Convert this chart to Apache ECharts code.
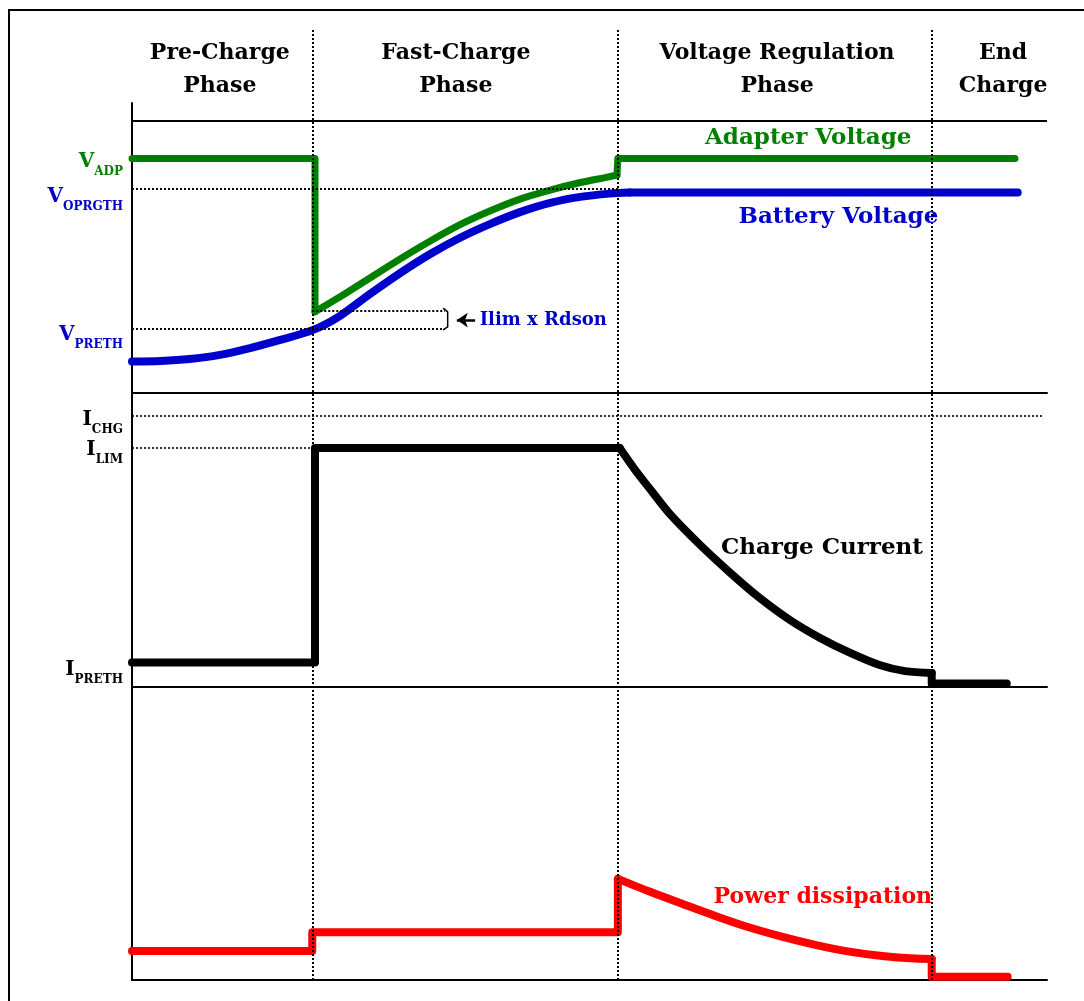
<!DOCTYPE html>
<html>
<head>
<meta charset="utf-8">
<script src="https://cdn.jsdelivr.net/npm/echarts@6/dist/echarts.min.js"></script>
<style>
html,body{margin:0;padding:0;background:#fff;}
#frame{position:absolute;left:8px;top:9px;width:1300px;height:1300px;border-left:2px solid #000;border-top:2px solid #000;}
#chart{position:absolute;left:0;top:0;width:1084px;height:1001px;}
</style>
</head>
<body>
<div id="frame"></div>
<div id="chart"></div>
<script>
// ---------- data (time axis 0..100, each panel's value axis normalised) ----------
const phaseBoundaries = [19.7, 53.1, 87.4];
const phaseNames = ['Pre-Charge\nPhase', 'Fast-Charge\nPhase', 'Voltage Regulation\nPhase', 'End\nCharge'];
const phaseLabelT = [9.6, 35.4, 70.5, 95.2];

const voltTickValues = [86.2, 75.0, 23.6];
const voltTickMain = ['V', 'V', 'V'];
const voltTickSub = ['ADP', 'OPRGTH', 'PRETH'];
const currTickValues = [92.2, 81.3, 8.3];
const currTickMain = ['I', 'I', 'I'];
const currTickSub = ['CHG', 'LIM', 'PRETH'];

// Adapter voltage: straight (step) parts and the smooth ramp
const adapterVoltageSteps = [
  [[0, 86.2], [20.0, 86.2], [20.0, 29.9]],
  [[53.0, 80.1], [53.1, 86.2], [96.5, 86.2]]
];
const adapterVoltageRamp = [
  [20.0, 29.9], [22.7, 35.3], [26.0, 42.3], [29.3, 49.3], [32.6, 55.9], [35.8, 61.8],
  [39.1, 66.9], [42.4, 71.3], [45.7, 74.6], [49.0, 77.4], [51.7, 79.2], [53.0, 80.1]
];
// Battery voltage (smooth rise plus its flat hold)
const batteryVoltageRise = [
  [0, 11.6], [3.1, 11.8], [6.3, 12.5], [9.6, 14.0], [12.9, 16.5], [16.2, 19.5],
  [19.8, 23.2], [22.7, 28.3], [26.0, 36.4], [29.3, 44.1], [32.6, 51.1], [35.8, 57.0],
  [39.1, 62.1], [42.4, 66.5], [45.7, 69.9], [49.0, 72.1], [52.2, 73.3], [54.4, 73.7]
];
const batteryVoltageHold = [[54.4, 73.7], [96.8, 73.7]];
// Charge current
const chargeCurrentSteps = [
  [[0, 8.3], [20.0, 8.3], [20.0, 81.3], [53.3, 81.3]],
  [[87.4, 4.8], [87.4, 1.2], [95.6, 1.2]]
];
const chargeCurrentTaper = [
  [53.3, 81.3], [55.0, 73.8], [56.7, 67.0], [58.8, 58.8], [62.1, 48.3], [65.4, 38.8],
  [68.6, 30.3], [71.9, 22.8], [75.2, 16.7], [78.5, 11.6], [81.7, 7.5], [84.5, 5.4], [87.4, 4.8]
];
// Power dissipation
const powerSteps = [
  [[0, 9.9], [19.7, 9.9], [19.7, 16.3], [53.1, 16.3], [53.1, 34.5]],
  [[87.4, 7.2], [87.4, 1.1], [95.7, 1.1]]
];
const powerTaper = [
  [53.1, 34.5], [56.7, 30.0], [60.3, 25.8], [63.9, 21.7], [67.5, 17.9], [71.1, 14.7],
  [74.8, 11.9], [78.4, 9.7], [82.0, 8.2], [85.6, 7.3], [87.4, 7.2]
];

// dotted reference segments [t0, t1, value]
const voltGuides = [[0, 53.1, 75.0], [0, 34.2, 23.6], [19.7, 34.2, 30.1]];
const currGuides = [[0, 99.5, 92.2], [0, 19.7, 81.3]];
const ilimBracket = [[34.0, 31.2], [34.5, 29.8], [34.5, 24.3], [34.0, 23.2]];
const ilimArrow = [[37.5, 26.8], [35.5, 26.8]];

const voltNotes = [['Adapter Voltage', 73.9, 93.8], ['Battery Voltage', 77.2, 64.7]];
const ilimNote = ['Ilim x Rdson', 38.0, 26.8];
const currNotes = [['Charge Current', 75.4, 47.3]];
const powerNotes = [['Power dissipation', 75.5, 28.3]];

// ---------- styles ----------
const GREEN = '#008000', BLUE = '#0000CC', RED = '#FF0000', BLACK = '#000000';
const FONT = 'DejaVu Serif';
const L = 132, R = 37;

function richLabel(colors, shifts) {
  const rich = {};
  colors.forEach((c, i) => {
    const s = shifts[i];
    rich['m' + i] = {fontFamily: FONT, fontWeight: 'bold', fontSize: 20, color: c, lineHeight: 22,
                     padding: [s, 0, 0, 0], verticalAlign: 'top'};
    rich['s' + i] = {fontFamily: FONT, fontWeight: 'bold', fontSize: 12, color: c, lineHeight: 12,
                     padding: [14 + s, 0, 0, 0], verticalAlign: 'top'};
  });
  return rich;
}
function tickFormatter(values, mains, subs) {
  return function (v) {
    let best = 0;
    values.forEach((x, i) => { if (Math.abs(x - v) < Math.abs(values[best] - v)) best = i; });
    return '{m' + best + '|' + mains[best] + '}{s' + best + '|' + subs[best] + '}';
  };
}
function noteSeries(notes, xi, color, size) {
  return {
    type: 'scatter', xAxisIndex: xi, yAxisIndex: xi, symbolSize: 0, silent: true, z: 5,
    itemStyle: {opacity: 1},
    data: notes.map(n => ({name: n[0], value: [n[1], n[2]]})),
    label: {show: true, position: 'inside', formatter: '{b}', fontFamily: FONT, fontWeight: 'bold',
            fontSize: size, color: color, opacity: 1}
  };
}
function guideLines(guides, width) {
  return {
    silent: true, symbol: 'none', label: {show: false},
    lineStyle: {color: BLACK, type: [2, 2], width: width, opacity: 1},
    data: guides.map(g => [{coord: [g[0], g[2]]}, {coord: [g[1], g[2]]}])
  };
}
const curveStyle = (c, w) => ({color: c, width: w, cap: 'round', join: 'round', opacity: 1});
function traceSeries(name, gi, data, color, width, smooth) {
  return {
    name: name, type: 'line', xAxisIndex: gi, yAxisIndex: gi, data: data, showSymbol: false,
    smooth: smooth ? 0.3 : false,
    lineStyle: curveStyle(color, width), itemStyle: {color: color}, z: 3, silent: true
  };
}

const xAxisBase = (gi, showLine) => ({
  type: 'value', gridIndex: gi, min: 0, max: 100, show: showLine,
  axisLine: {show: showLine, onZero: false, lineStyle: {color: BLACK, width: 2}},
  axisTick: {show: false}, axisLabel: {show: false}, splitLine: {show: false}
});

const series = [
  // phase boundaries & phase headers
  {
    type: 'scatter', xAxisIndex: 0, yAxisIndex: 0, symbolSize: 0, silent: true, z: 10,
    itemStyle: {opacity: 1},
    data: phaseNames.map((n, i) => ({name: n, value: [phaseLabelT[i], 0.9584]})),
    label: {show: true, position: 'inside', formatter: '{b}', fontFamily: FONT, fontWeight: 'bold',
            fontSize: 22, lineHeight: 33, color: BLACK, align: 'center', opacity: 1},
    markLine: {
      silent: true, symbol: 'none', label: {show: false},
      lineStyle: {color: BLACK, type: [2, 2], width: 2, opacity: 1},
      data: phaseBoundaries.map(t => ({xAxis: t}))
    }
  }
];

// voltage panel
const battery = traceSeries('Battery Voltage', 1, batteryVoltageRise, BLUE, 8, true);
battery.markLine = guideLines(voltGuides, 2);
series.push(battery);
series.push(traceSeries('Battery Voltage', 1, batteryVoltageHold, BLUE, 8, false));
adapterVoltageSteps.forEach(seg => series.push(traceSeries('Adapter Voltage', 1, seg, GREEN, 7, false)));
const adapterRamp = traceSeries('Adapter Voltage', 1, adapterVoltageRamp, GREEN, 7, true);
adapterRamp.markLine = {silent: true, symbol: 'none', label: {show: false},
  lineStyle: {color: BLACK, type: 'solid', width: 2, opacity: 1}, data: [{yAxis: 100}]};
series.push(adapterRamp);
series.push({
  type: 'line', xAxisIndex: 1, yAxisIndex: 1, data: ilimBracket, showSymbol: false, silent: true,
  lineStyle: {color: BLACK, width: 1.5, opacity: 1}, z: 4
});
series.push({
  type: 'line', xAxisIndex: 1, yAxisIndex: 1, data: [], silent: true,
  markLine: {silent: true, symbol: ['none', 'arrow'], symbolSize: [11, 11], label: {show: false},
             lineStyle: {color: BLACK, type: 'solid', width: 2.5, opacity: 1},
             data: [[{coord: ilimArrow[0]}, {coord: ilimArrow[1]}]]}
});
series.push(noteSeries(voltNotes.slice(0, 1), 1, GREEN, 23));
series.push(noteSeries(voltNotes.slice(1, 2), 1, BLUE, 23));
series.push({
  type: 'scatter', xAxisIndex: 1, yAxisIndex: 1, symbolSize: 0, silent: true, z: 5,
  itemStyle: {opacity: 1},
  data: [{name: ilimNote[0], value: [ilimNote[1], ilimNote[2]]}],
  label: {show: true, position: 'right', distance: 0, formatter: '{b}', fontFamily: FONT,
          fontWeight: 'bold', fontSize: 18, color: BLUE, opacity: 1}
});
// current panel
const currStep0 = traceSeries('Charge Current', 2, chargeCurrentSteps[0], BLACK, 8, false);
currStep0.markLine = guideLines(currGuides, 1.6);
series.push(currStep0);
series.push(traceSeries('Charge Current', 2, chargeCurrentSteps[1], BLACK, 8, false));
series.push(traceSeries('Charge Current', 2, chargeCurrentTaper, BLACK, 8, true));
series.push(noteSeries(currNotes, 2, BLACK, 23));
// power panel
powerSteps.forEach(seg => series.push(traceSeries('Power dissipation', 3, seg, RED, 8, false)));
series.push(traceSeries('Power dissipation', 3, powerTaper, RED, 8, true));
series.push(noteSeries(powerNotes, 3, RED, 22));

const option = {
  animation: false,
  grid: [
    {left: L, right: R, top: 30, bottom: 21},   // overlay (phase lines + headers)
    {left: L, right: R, top: 103, bottom: 608}, // voltages
    {left: L, right: R, top: 393, bottom: 314}, // current
    {left: L, right: R, top: 687, bottom: 21}   // power
  ],
  xAxis: [xAxisBase(0, false), xAxisBase(1, true), xAxisBase(2, true), xAxisBase(3, true)],
  yAxis: [
    {type: 'value', gridIndex: 0, min: 0, max: 1, show: false},
    {type: 'value', gridIndex: 1, min: 0, max: 106.62,
     axisLine: {show: true, lineStyle: {color: BLACK, width: 2}}, axisTick: {show: false}, splitLine: {show: false},
     axisLabel: {show: true, customValues: voltTickValues, margin: 9, padding: [6, 0, 0, 0],
                 formatter: tickFormatter(voltTickValues, voltTickMain, voltTickSub),
                 rich: richLabel([GREEN, BLUE, BLUE], [1, 6, 4])}},
    {type: 'value', gridIndex: 2, min: 0, max: 100,
     axisLine: {show: true, lineStyle: {color: BLACK, width: 2}}, axisTick: {show: false}, splitLine: {show: false},
     axisLabel: {show: true, customValues: currTickValues, margin: 9, padding: [6, 0, 0, 0],
                 formatter: tickFormatter(currTickValues, currTickMain, currTickSub),
                 rich: richLabel([BLACK, BLACK, BLACK], [2, 0, 5])}},
    {type: 'value', gridIndex: 3, min: 0, max: 100,
     axisLine: {show: true, lineStyle: {color: BLACK, width: 2}}, axisTick: {show: false}, splitLine: {show: false},
     axisLabel: {show: false}}
  ],
  series: series
};

const chart = echarts.init(document.getElementById('chart'), null, {renderer: 'canvas'});
chart.setOption(option);
</script>
</body>
</html>
